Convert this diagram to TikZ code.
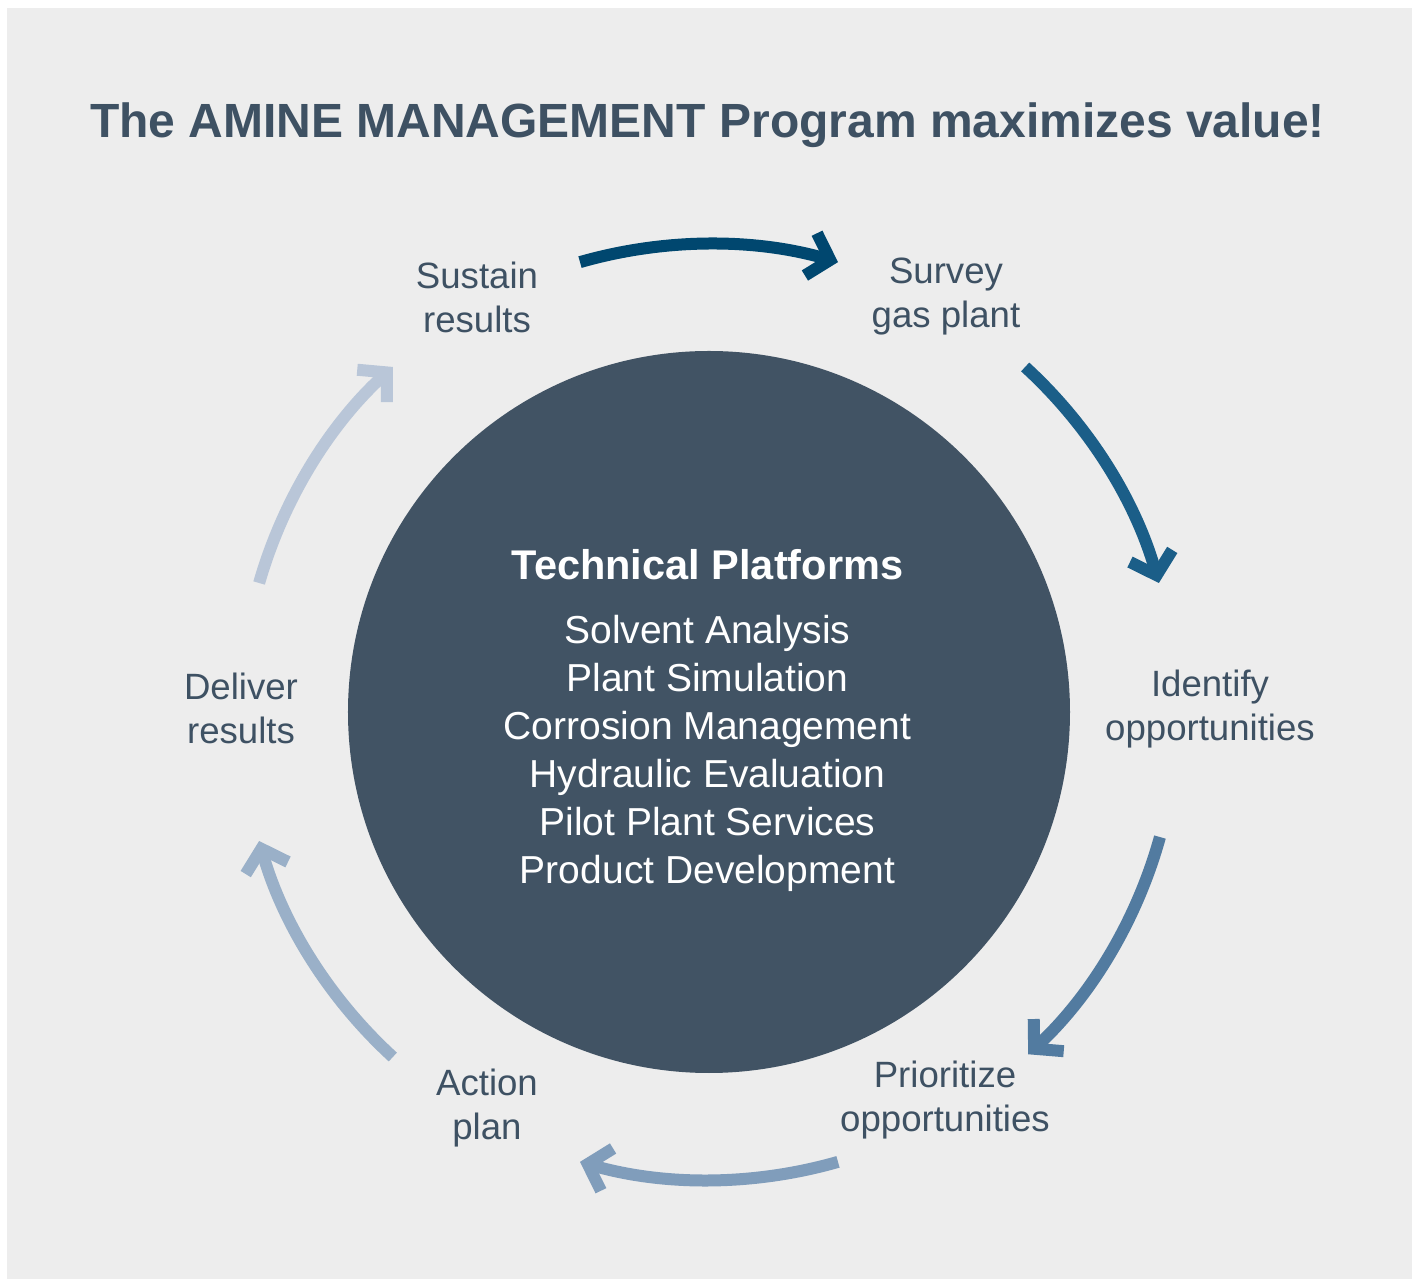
\documentclass[tikz,border=0pt]{standalone}
\usepackage{fontspec}
\setmainfont{Liberation Sans}
\usetikzlibrary{arrows.meta}

\definecolor{bggray}{RGB}{237,237,237}
\definecolor{hubblue}{RGB}{65,83,100}
\definecolor{slate}{RGB}{62,81,99}
\definecolor{arrA}{RGB}{0,71,111}
\definecolor{arrB}{RGB}{27,94,136}
\definecolor{arrC}{RGB}{82,123,160}
\definecolor{arrD}{RGB}{128,157,187}
\definecolor{arrE}{RGB}{154,176,200}
\definecolor{arrF}{RGB}{185,198,216}

\begin{document}
\begin{tikzpicture}[x=0.5pt,y=0.5pt,
	stage/.style={text=slate,align=center,font=\fontsize{18.3pt}{22pt}\selectfont},
	cyc/.style={line width=6pt,-{Straight Barb[length=10pt,width=22pt]}}]
	\useasboundingbox (-709,-571) rectangle (709,712);
	\fill[bggray] (-702,-567) rectangle (703,704);
	\node[text=slate,anchor=base,font=\bfseries\fontsize{24pt}{28pt}\selectfont] (title) at (-1.5,574) {The AMINE MANAGEMENT Program maximizes value!};
	% hub
	\fill[hubblue] (0,0) circle (361);
	\node[text=white,anchor=base,font=\bfseries\fontsize{20.75pt}{24pt}\selectfont] (hubhead) at (-1.5,132) {Technical Platforms};
	\node[text=white,align=center,font=\fontsize{19.5pt}{24pt}\selectfont] (hublist) at (-1.5,-41) {Solvent Analysis\\Plant Simulation\\Corrosion Management\\Hydraulic Evaluation\\Pilot Plant Services\\Product Development};
	% stages
	\node[stage] (survey) at (237,415) {Survey\\gas plant};
	\node[stage] (identify) at (501,3) {Identify\\opportunities};
	\node[stage] (prioritize) at (236,-388) {Prioritize\\opportunities};
	\node[stage] (action) at (-222,-396) {Action\\plan};
	\node[stage] (deliver) at (-468,4) {Deliver\\results};
	\node[stage] (sustain) at (-232,415) {Sustain\\results};
	% cycle arrows
	\foreach \a/\b/\c in {106/74/arrA,47.5/16/arrB,-15.5/-47/arrC,-74/-106/arrD,-132.5/-164/arrE,164/132.5/arrF}
		\draw[cyc,\c] (\a:468) arc[start angle=\a,end angle=\b,radius=468];
\end{tikzpicture}
\end{document}
